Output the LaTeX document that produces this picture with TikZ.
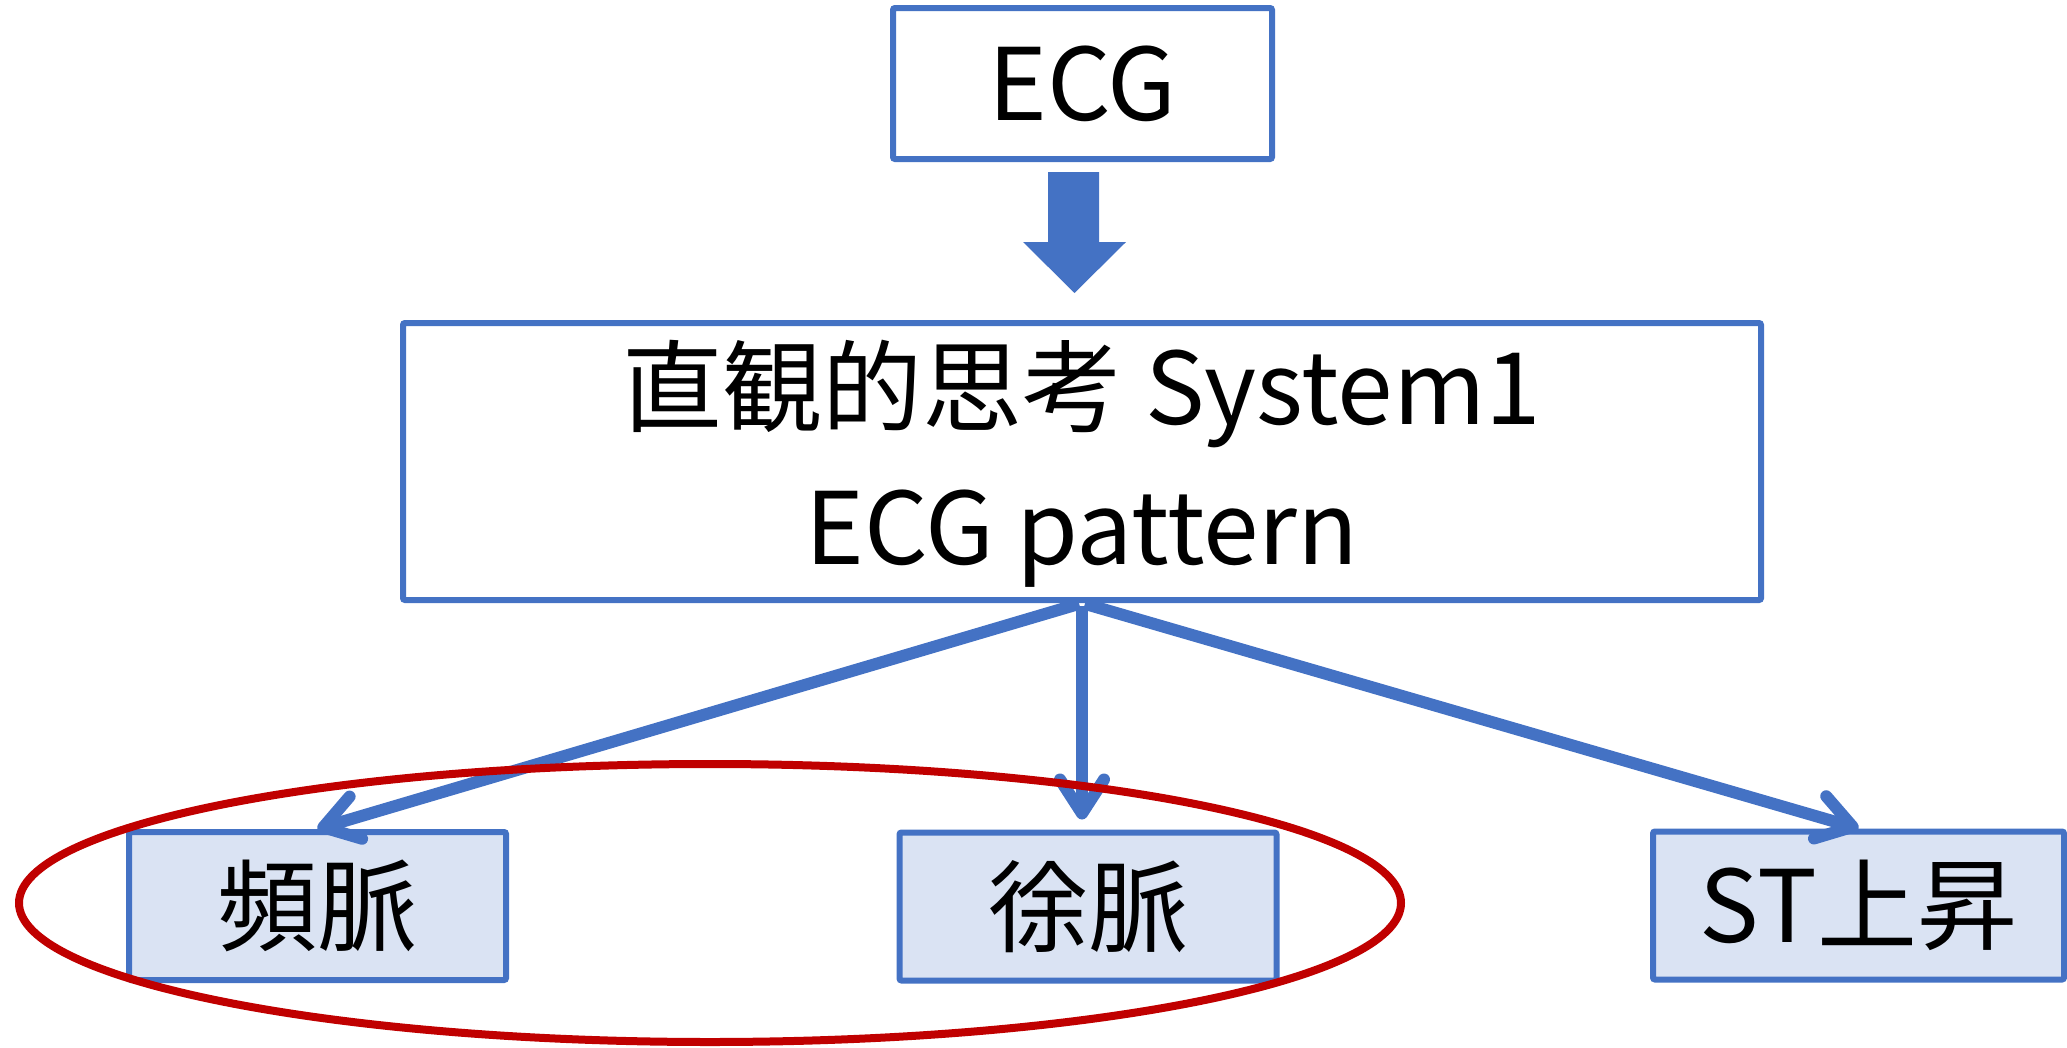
\documentclass[tikz,border=0pt]{standalone}
\usepackage{fontspec}
\setmainfont{Noto Sans CJK JP}
\usetikzlibrary{arrows.meta}
\definecolor{oblue}{HTML}{4472C4}
\definecolor{ofill}{HTML}{DAE3F3}
\definecolor{ored}{HTML}{C00000}
\begin{document}
\begin{tikzpicture}[x=1pt,y=-1pt,
  box/.style={draw=oblue, line width=6pt, rounded corners=2pt, inner sep=0pt, font=\fontsize{100}{140}\selectfont},
  leaf/.style={box, fill=ofill, minimum width=377pt, minimum height=148pt},
  conn/.style={draw=oblue, line width=12pt, -{Straight Barb[length=34pt,width=44pt,round]}},
  txt/.style={font=\fontsize{100}{140}\selectfont, inner sep=0pt}
]
\useasboundingbox (0,0) rectangle (2067,1047);
% top box
\node[box, fill=white, minimum width=379pt, minimum height=151pt] (ecg) at (1082.5,83.5) {ECG};
% main box
\node[box, fill=white, minimum width=1358pt, minimum height=277pt] (sys) at (1082,461.5) {};
\node[txt, anchor=base] (l1) at (1082,424) {直観的思考 System1};
\node[txt, anchor=base] (l2) at (1082,564) {ECG pattern};
% block arrow
\fill[oblue] (1048,172) -- (1099,172) -- (1099,242) -- (1126,242) -- (1074.5,293) -- (1023,242) -- (1048,242) -- cycle;
% leaves
\node[leaf] (hin) at (317.5,906) {頻脈};
\node[leaf] (jo) at (1088,906.5) {徐脈};
\node[leaf, minimum width=411pt] (st) at (1858.5,905.5) {ST上昇};
% connectors
\draw[conn, shorten <=3pt] (sys.south) -- (hin.north);
\draw[conn, shorten <=3pt, shorten >=10pt] (sys.south) -- (sys.south |- jo.north);
\draw[conn, shorten <=3pt] (sys.south) -- (st.north);
% ellipse
\draw[ored, line width=8pt] (710,903) ellipse [x radius=691, y radius=139];
\end{tikzpicture}
\end{document}
